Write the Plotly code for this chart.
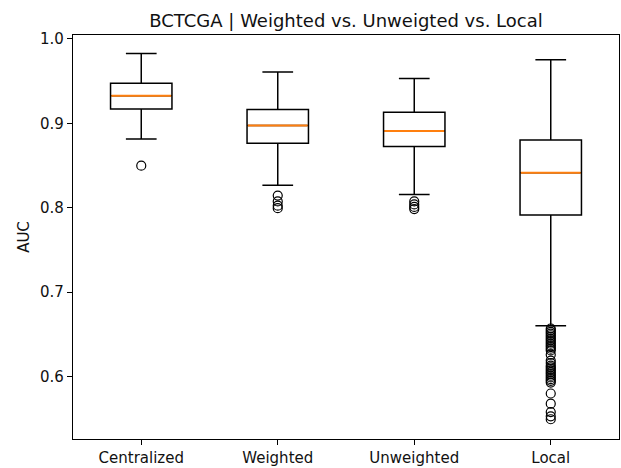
import numpy as np
import plotly.graph_objects as go

categories = ["Centralized", "Weighted", "Unweighted", "Local"]
q1 = [0.9171, 0.8765, 0.8725, 0.7916]
median = [0.9328, 0.8976, 0.8909, 0.8416]
q3 = [0.9476, 0.9164, 0.9132, 0.8804]
lowerfence = [0.8815, 0.8267, 0.8158, 0.6602]
upperfence = [0.9828, 0.9609, 0.9531, 0.9754]

outliers_centralized = [0.8499]
outliers_weighted = [0.8145, 0.8075, 0.8025, 0.7995]
outliers_unweighted = [0.8075, 0.8040, 0.8010, 0.7985]
outliers_local = [0.657, 0.655, 0.653, 0.651, 0.649, 0.647, 0.645, 0.643, 0.641,
                  0.639, 0.637, 0.635, 0.633, 0.631, 0.626, 0.619, 0.616, 0.613,
                  0.611, 0.609, 0.607, 0.605, 0.603, 0.601, 0.599, 0.597, 0.595,
                  0.593, 0.580, 0.568, 0.558, 0.553, 0.5495]
outliers = [outliers_centralized, outliers_weighted, outliers_unweighted, outliers_local]

yticks = [0.6, 0.7, 0.8, 0.9, 1.0]

positions = np.arange(1, len(categories) + 1)
box_width = 0.45
FONT = "DejaVu Sans"

fig = go.Figure()
fig.add_trace(go.Box(
    x=positions, q1=q1, median=median, q3=q3,
    lowerfence=lowerfence, upperfence=upperfence,
    width=box_width, whiskerwidth=0.5,
    fillcolor="rgba(0,0,0,0)",
    line=dict(color="black", width=1.5),
    boxpoints=False, showlegend=False, hoverinfo="skip",
))

mx, my = [], []
for p, m in zip(positions, median):
    mx += [p - box_width / 2 + 0.006, p + box_width / 2 - 0.006, None]
    my += [m, m, None]
fig.add_trace(go.Scatter(x=mx, y=my, mode="lines",
                         line=dict(color="#ff7f0e", width=2),
                         showlegend=False, hoverinfo="skip"))

ox, oy = [], []
for p, vals in zip(positions, outliers):
    ox += [p] * len(vals)
    oy += vals
fig.add_trace(go.Scatter(x=ox, y=oy, mode="markers",
                         marker=dict(symbol="circle-open", size=9,
                                     color="black", line=dict(width=1.2, color="black")),
                         showlegend=False, hoverinfo="skip"))

fig.update_layout(
    width=621, height=468,
    margin=dict(l=73, r=1, t=35, b=25),
    paper_bgcolor="white", plot_bgcolor="white",
    font=dict(family=FONT, size=15, color="#111111"),
    title=dict(text="BCTCGA | Weighted vs. Unweigted vs. Local",
               x=0.5, xref="paper", xanchor="center",
               y=1 - 21 / 468, yref="container", yanchor="middle",
               font=dict(family=FONT, size=18, color="#111111")),
    boxmode="overlay",
)
fig.update_xaxes(range=[0.5, 4.5], tickvals=positions, ticktext=categories,
                 showgrid=False, zeroline=False, showline=True, mirror=True,
                 linecolor="black", linewidth=1.3, ticks="outside", ticklen=5,
                 tickwidth=1.3, tickcolor="black")
fig.update_yaxes(range=[0.5261, 1.0047], tickvals=yticks, tickformat=".1f",
                 showgrid=False, zeroline=False, showline=True, mirror=True,
                 linecolor="black", linewidth=1.3, ticks="outside", ticklen=5,
                 tickwidth=1.3, tickcolor="black",
                 title=dict(text="AUC", standoff=6, font=dict(size=15)))

fig.write_html("out.html")
